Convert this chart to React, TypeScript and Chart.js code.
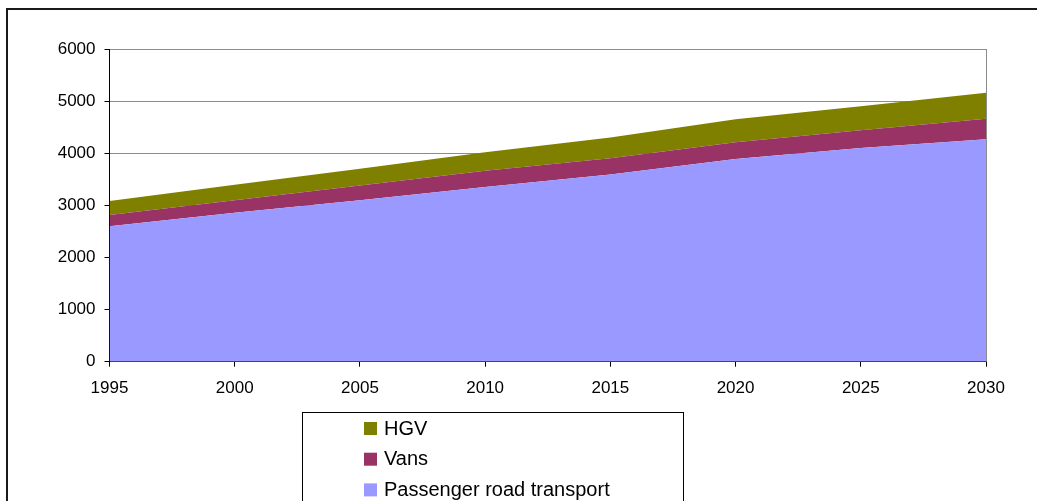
import React, { useEffect, useRef } from 'react';
import { Chart, registerables } from 'chart.js';

Chart.register(...registerables);

const years = ['1995', '2000', '2005', '2010', '2015', '2020', '2025', '2030'];
const passenger = [2600, 2860, 3100, 3350, 3590, 3890, 4100, 4270];
const vans = [215, 240, 280, 315, 315, 320, 340, 390];
const hgv = [270, 295, 320, 355, 395, 440, 460, 500];
const seriesLabels = ['Passenger road transport', 'Vans', 'HGV'];
const seriesColors = ['#9999FF', '#993366', '#808000'];
const yMin = 0;
const yMax = 6000;
const yStep = 1000;

const FONT = '"Liberation Sans", Arial, sans-serif';

const frameLines = {
  id: 'frameLines',
  afterDatasetsDraw(chart: any) {
    const { ctx, chartArea } = chart;
    ctx.save();
    ctx.strokeStyle = '#8c8c8c';
    ctx.lineWidth = 1;
    ctx.beginPath();
    ctx.moveTo(Math.round(chartArea.right) + 0.5, chartArea.top);
    ctx.lineTo(Math.round(chartArea.right) + 0.5, chartArea.bottom);
    ctx.stroke();
    ctx.restore();
  },
};

const boxLegend = {
  id: 'boxLegend',
  afterDraw(chart: any) {
    const { ctx } = chart;
    const ds = chart.data.datasets.slice().reverse();
    ctx.save();
    ctx.strokeStyle = '#000';
    ctx.lineWidth = 1;
    ctx.strokeRect(302.5, 412.5, 381, 120);
    ctx.font = `20px ${FONT}`;
    ctx.textBaseline = 'alphabetic';
    ctx.textAlign = 'left';
    ds.forEach((d: any, i: number) => {
      const cy = 428.5 + i * 30.7;
      ctx.fillStyle = d.backgroundColor;
      ctx.fillRect(364, cy - 6.5, 13, 13);
      ctx.fillStyle = '#000';
      ctx.fillText(d.label, 384, cy + 6);
    });
    ctx.restore();
  },
};

export default function App() {
  const ref = useRef<HTMLCanvasElement>(null);

  useEffect(() => {
    if (!ref.current) return;
    const values = [passenger, vans, hgv];
    const chart = new Chart(ref.current, {
      type: 'line',
      data: {
        labels: years,
        datasets: values.map((v, i) => ({
          label: seriesLabels[i],
          data: v,
          backgroundColor: seriesColors[i],
          borderColor: seriesColors[i],
          borderWidth: 0,
          pointRadius: 0,
          fill: i === 0 ? 'origin' : '-1',
          tension: 0,
        })),
      },
      options: {
        animation: false,
        responsive: false,
        maintainAspectRatio: false,
        layout: { padding: { top: 49, left: 0, right: 51, bottom: 0 } },
        plugins: {
          legend: { display: false },
          tooltip: { enabled: false },
        },
        scales: {
          x: {
            type: 'category',
            offset: false,
            grid: {
              drawOnChartArea: false,
              drawTicks: true,
              tickLength: 5,
              tickColor: '#000',
            },
            border: { display: true, color: '#000', width: 1 },
            ticks: {
              color: '#000',
              font: { family: FONT, size: 17 },
              padding: 11,
              maxRotation: 0,
              autoSkip: false,
            },
            afterFit: (scale: any) => {
              scale.height = 139.3;
            },
          },
          y: {
            stacked: true,
            min: yMin,
            max: yMax,
            grid: {
              color: '#8c8c8c',
              tickLength: 5,
              tickColor: '#000',
            },
            border: { display: true, color: '#000', width: 1 },
            ticks: {
              stepSize: yStep,
              color: '#000',
              font: { family: FONT, size: 17 },
              padding: 9,
              callback: (v: any) => String(v),
            },
            afterFit: (scale: any) => {
              scale.width = 109.5;
            },
          },
        },
      },
      plugins: [frameLines, boxLegend],
    });
    return () => chart.destroy();
  }, []);

  return (
    <div
      style={{
        position: 'absolute',
        left: 0,
        top: 0,
        width: 1037,
        height: 501,
        overflow: 'hidden',
        background: '#fff',
      }}
    >
      <canvas ref={ref} width={1037} height={501} style={{ position: 'absolute', left: 0, top: 0 }} />
      <div
        style={{
          position: 'absolute',
          left: 6,
          top: 8,
          width: 1100,
          height: 600,
          border: '2px solid #1a1a1a',
          pointerEvents: 'none',
        }}
      />
    </div>
  );
}
